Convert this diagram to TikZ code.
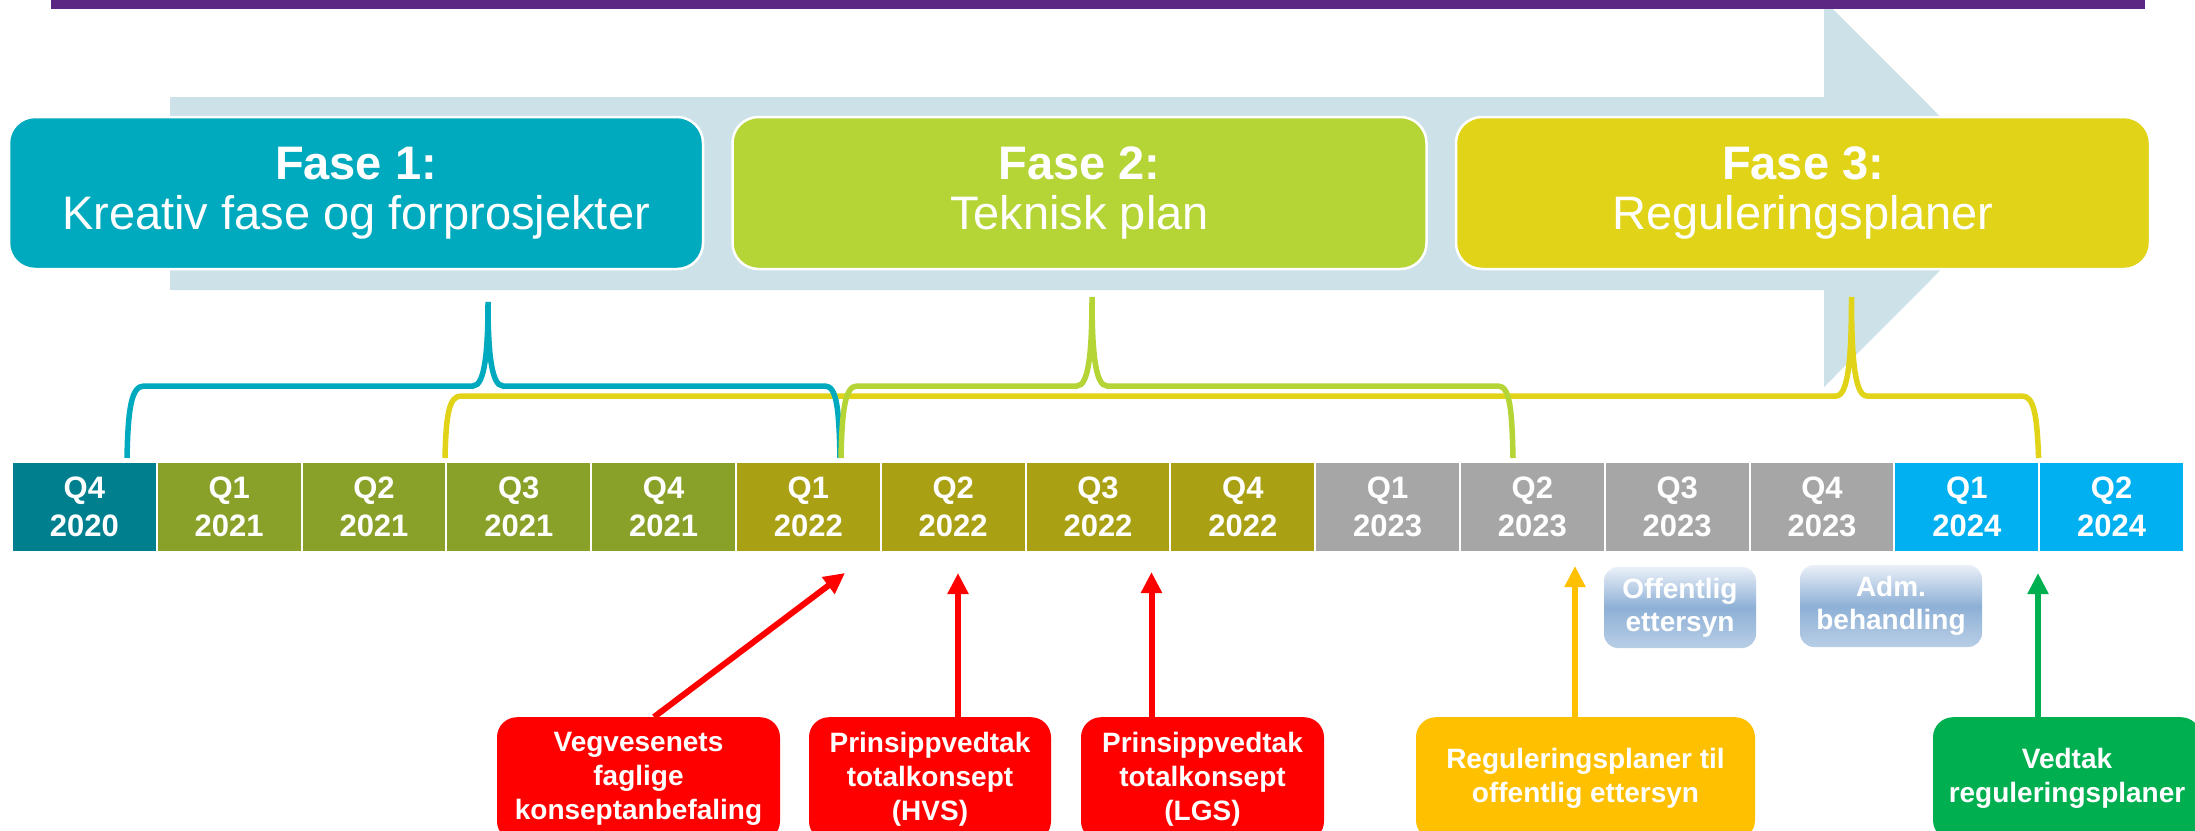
\documentclass[tikz,border=0pt]{standalone}
\usepackage{fontspec}
\setmainfont{Liberation Sans}
\usetikzlibrary{arrows.meta}
\definecolor{purplebar}{RGB}{92,39,130}
\definecolor{arrowbg}{RGB}{205,226,232}
\definecolor{faseone}{RGB}{0,170,190}
\definecolor{fasetwo}{RGB}{181,212,54}
\definecolor{fasethree}{RGB}{225,212,24}
\definecolor{cteal}{RGB}{0,128,143}
\definecolor{colive}{RGB}{137,161,40}
\definecolor{cmustard}{RGB}{169,160,20}
\definecolor{cgray}{RGB}{166,166,166}
\definecolor{cblue}{RGB}{0,176,240}
\definecolor{mred}{RGB}{255,0,0}
\definecolor{morange}{RGB}{255,192,0}
\definecolor{mgreen}{RGB}{0,176,80}
\definecolor{gtop}{RGB}{234,240,248}
\definecolor{gmid}{RGB}{142,176,214}
\definecolor{gbot}{RGB}{184,206,230}
\begin{document}
\begin{tikzpicture}[x=1pt,y=-1pt,
  fasebox/.style={rounded corners=26pt, draw=white, line width=2.5pt, text=white,
    minimum width=694pt, minimum height=152pt, inner sep=0pt, align=center,
    font=\fontsize{47}{50}\selectfont},
  qcell/.style={draw=white, line width=2pt, minimum width=144.8pt, minimum height=90pt,
    inner sep=0pt, text=white, align=center, font=\bfseries\fontsize{31}{38}\selectfont},
  mbox/.style={rounded corners=20pt, text=white, inner sep=0pt, align=center, anchor=north,
    font=\bfseries\fontsize{28}{34}\selectfont},
  gbox/.style={rounded corners=14pt, top color=gtop, bottom color=gbot, middle color=gmid,
    text=white, inner sep=0pt, align=center, font=\bfseries\fontsize{28}{33}\selectfont},
  brace/.style={line width=5.5pt},
  arrowline/.style={line width=6pt, -{Triangle[length=21pt,width=20pt]}}
]
\useasboundingbox (0,0) rectangle (2195,830);
\clip (0,0) rectangle (2195,830);
\fill[white] (0,0) rectangle (2195,830);

% big background arrow
\fill[arrowbg] (170,97) -- (1824,97) -- (1824,0) -- (2017,193.5) -- (1824,387)
  -- (1824,290) -- (170,290) -- cycle;
% purple bar
\fill[purplebar] (51,0) rectangle (2145,9);

% phase boxes
\node[fasebox, fill=faseone] (f1) at (356,193) {\textbf{Fase 1:}\\Kreativ fase og forprosjekter};
\node[fasebox, fill=fasetwo] (f2) at (1079.5,193) {\textbf{Fase 2:}\\Teknisk plan};
\node[fasebox, fill=fasethree] (f3) at (1803,193) {\textbf{Fase 3:}\\Reguleringsplaner};

% braces
\draw[brace, fasethree] (445,458) .. controls (446,415) and (449,396) .. (461,396)
  -- (1836,396) .. controls (1848,396) and (1851.5,360) .. (1851.5,297)
  .. controls (1851.5,360) and (1855,396) .. (1867,396)
  -- (2022,396) .. controls (2034,396) and (2037,415) .. (2038.6,458);
\draw[brace, faseone] (127,458) .. controls (128,410) and (131,386) .. (144,386)
  -- (473,386) .. controls (485,386) and (488,350) .. (488,302)
  .. controls (488,350) and (491,386) .. (503,386)
  -- (825,386) .. controls (837,386) and (839,410) .. (840,458);
\draw[brace, fasetwo] (841,458) .. controls (842,410) and (845,386) .. (857,386)
  -- (1077,386) .. controls (1089,386) and (1092,350) .. (1092,297)
  .. controls (1092,350) and (1095,386) .. (1107,386)
  -- (1498,386) .. controls (1510,386) and (1512,410) .. (1513,458);

% quarter cells
\foreach \q/\yr/\col [count=\i from 0] in {Q4/2020/cteal, Q1/2021/colive, Q2/2021/colive,
  Q3/2021/colive, Q4/2021/colive, Q1/2022/cmustard, Q2/2022/cmustard, Q3/2022/cmustard,
  Q4/2022/cmustard, Q1/2023/cgray, Q2/2023/cgray, Q3/2023/cgray, Q4/2023/cgray,
  Q1/2024/cblue, Q2/2024/cblue}
  \node[qcell, fill=\col] (c\i) at ({84.4+144.8*\i}, 507) {\q\\\yr};

% gradient boxes
\node[gbox, minimum width=152pt, minimum height=81pt] (g1) at (1680,607.5) {Offentlig\\ettersyn};
\node[gbox, minimum width=182pt, minimum height=82pt] (g2) at (1891,606) {Adm.\\behandling};

% milestone boxes
\node[mbox, fill=mred, minimum width=283pt, minimum height=124pt] (r1) at (638.5,717)
  {Vegvesenets\\faglige\\konseptanbefaling};
\node[mbox, fill=mred, minimum width=242pt, minimum height=124pt] (r2) at (930,717)
  {Prinsippvedtak\\totalkonsept\\(HVS)};
\node[mbox, fill=mred, minimum width=243pt, minimum height=124pt] (r3) at (1202.5,717)
  {Prinsippvedtak\\totalkonsept\\(LGS)};
\node[mbox, fill=morange, minimum width=339pt, minimum height=123pt] (r4) at (1585.5,717)
  {Reguleringsplaner til\\offentlig ettersyn};
\node[mbox, fill=mgreen, minimum width=268pt, minimum height=123pt] (r5) at (2067,717)
  {Vedtak\\reguleringsplaner};

% arrows
\coordinate (t1) at (845,573);
\coordinate (t2) at (958,573);
\coordinate (t3) at (1151.5,572);
\coordinate (t4) at (1575,566);
\coordinate (t5) at (2038,573);
\draw[arrowline, mred] ([xshift=15.5pt]r1.north) -- (t1);
\draw[arrowline, mred] (t2 |- r2.north) -- (t2);
\draw[arrowline, mred] (t3 |- r3.north) -- (t3);
\draw[arrowline, morange] (t4 |- r4.north) -- (t4);
\draw[arrowline, mgreen] (t5 |- r5.north) -- (t5);
\end{tikzpicture}
\end{document}
